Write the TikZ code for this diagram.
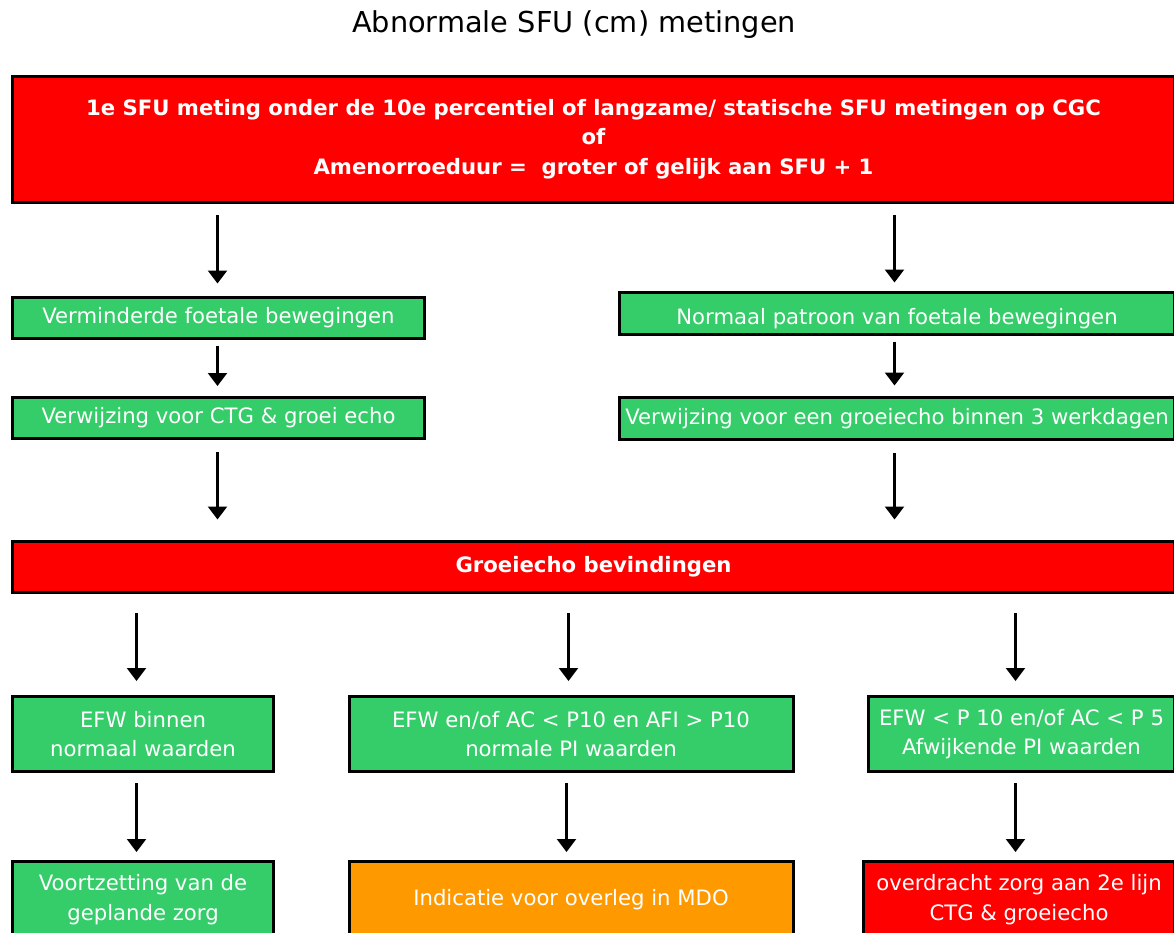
\documentclass[tikz,border=0pt]{standalone}
\usepackage{fontspec}
\setmainfont{DejaVu Sans}
\usetikzlibrary{arrows.meta}
\definecolor{boxred}{RGB}{255,0,0}
\definecolor{boxgreen}{RGB}{53,204,106}
\definecolor{boxorange}{RGB}{255,153,0}
\begin{document}
\begin{tikzpicture}[x=1pt,y=-1pt,
  box/.style={draw=black, line width=3pt, text=white, align=center, inner sep=0pt,
    anchor=north west, font=\fontsize{21.2}{29.5}\selectfont},
  redbox/.style={box, fill=boxred},
  greenbox/.style={box, fill=boxgreen},
  orangebox/.style={box, fill=boxorange},
  boldtext/.style={font=\bfseries\fontsize{21.2}{29.5}\selectfont},
  arr/.style={draw=black, line width=2.2pt, -{Triangle[width=19pt,length=13pt]}},
  titletext/.style={font=\fontsize{28.8}{32}\selectfont, text=black, inner sep=0pt}
]
\useasboundingbox (0,0) rectangle (1174,932);
\clip (0,0) rectangle (1174,932);

\node[titletext] (title) at (574,25) {Abnormale SFU (cm) metingen};

\node[redbox, boldtext, minimum width=1162, minimum height=126] (top) at (11,74.5)
  {1e SFU meting onder de 10e percentiel of langzame/ statische SFU metingen op CGC\\of\\Amenorroeduur =\ \ groter of gelijk aan SFU + 1};

\node[greenbox, minimum width=412, minimum height=41] (v1) at (11,295.5) {Verminderde foetale bewegingen};
\node[greenbox, minimum width=555, minimum height=42, text height=23pt, text depth=0pt] (n1) at (618,290.5) {Normaal patroon van foetale bewegingen};
\node[greenbox, minimum width=412, minimum height=41] (v2) at (11,396) {Verwijzing voor CTG \& groei echo};
\node[greenbox, minimum width=555, minimum height=42.5] (n2) at (618,395.5) {Verwijzing voor een groeiecho binnen 3 werkdagen};

\node[redbox, boldtext, minimum width=1162, minimum height=51.5] (groei) at (11,539.5) {Groeiecho bevindingen};

\node[greenbox, minimum width=261, minimum height=75] (r4a) at (11,695) {EFW binnen\\normaal waarden};
\node[greenbox, minimum width=444, minimum height=75] (r4b) at (347.5,695) {EFW en/of AC < P10 en AFI > P10\\normale PI waarden};
\node[greenbox, minimum width=306, minimum height=75] (r4c) at (867,695) {EFW < P 10 en/of AC < P 5\\Afwijkende PI waarden};

\node[greenbox, minimum width=261, minimum height=76] (r5a) at (11,860) {Voortzetting van de\\geplande zorg};
\node[orangebox, minimum width=444, minimum height=76] (r5b) at (347.5,860) {Indicatie voor overleg in MDO};
\node[redbox, minimum width=311, minimum height=76] (r5c) at (862,860) {overdracht zorg aan 2e lijn\\CTG \& groeiecho};

\draw[arr, shorten <=11.5pt, shorten >=12pt] ([xshift=-1]v1.north |- top.south) -- ([xshift=-1]v1.north);
\draw[arr, shorten <=11.5pt, shorten >=8pt] ([xshift=-2.5]n1.north |- top.south) -- ([xshift=-2.5]n1.north);
\draw[arr, shorten <=6pt, shorten >=10pt] ([xshift=-1]v1.south) -- ([xshift=-1]v2.north);
\draw[arr, shorten <=6pt, shorten >=10pt] ([xshift=-2.5]n1.south) -- ([xshift=-2.5]n2.north);
\draw[arr, shorten <=12pt, shorten >=20pt] ([xshift=-1]v2.south) -- ([xshift=-1]v2.south |- groei.north);
\draw[arr, shorten <=12pt, shorten >=20pt] ([xshift=-2.5]n2.south) -- ([xshift=-2.5]n2.south |- groei.north);
\draw[arr, shorten <=19pt, shorten >=14pt] ([xshift=-6.5]r4a.north |- groei.south) -- ([xshift=-6.5]r4a.north);
\draw[arr, shorten <=19pt, shorten >=14pt] ([xshift=-2.5]r4b.north |- groei.south) -- ([xshift=-2.5]r4b.north);
\draw[arr, shorten <=19pt, shorten >=14pt] ([xshift=-6]r4c.north |- groei.south) -- ([xshift=-6]r4c.north);
\draw[arr, shorten <=10pt, shorten >=8pt] ([xshift=-6.5]r4a.south) -- ([xshift=-6.5]r5a.north);
\draw[arr, shorten <=10pt, shorten >=8pt] ([xshift=-4.5]r4b.south) -- ([xshift=-4.5]r5b.north);
\draw[arr, shorten <=10pt, shorten >=8pt] ([xshift=-6]r4c.south) -- ([xshift=-6]r4c.south |- r5c.north);
\end{tikzpicture}
\end{document}
